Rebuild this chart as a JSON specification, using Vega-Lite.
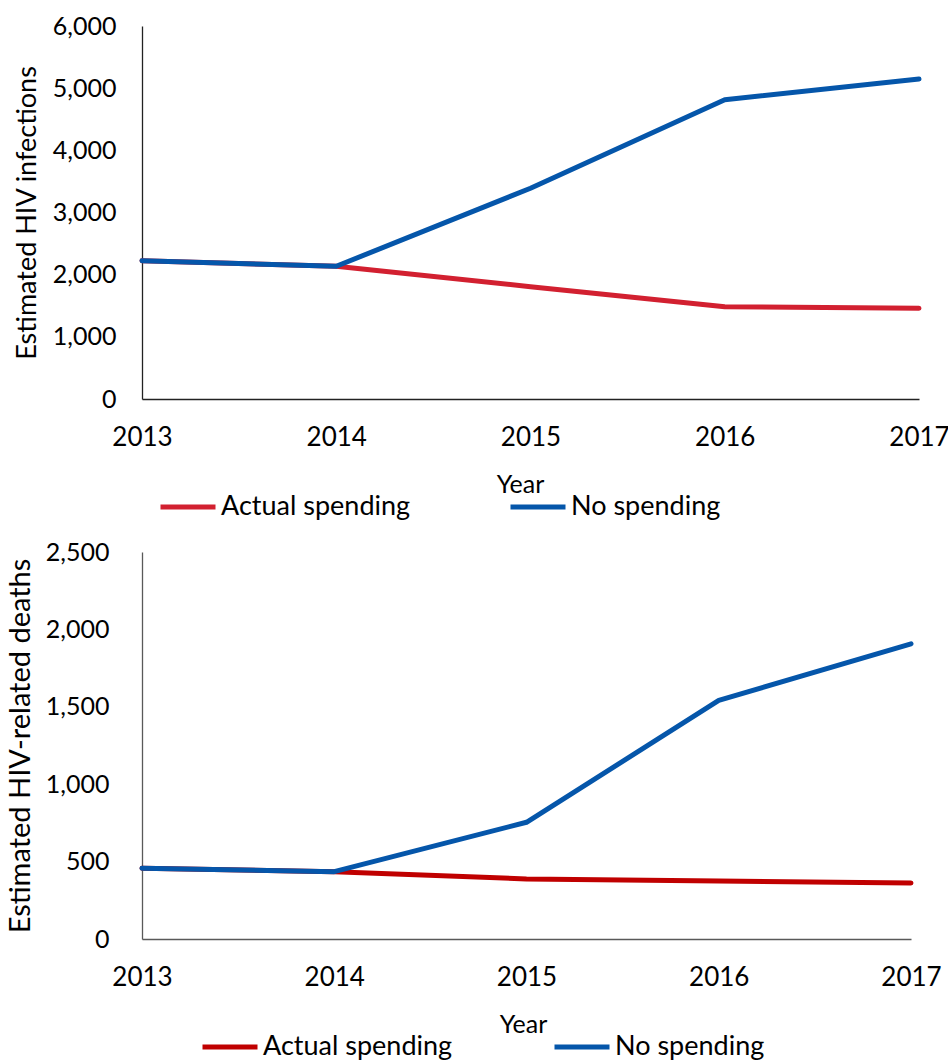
{
  "$schema": "https://vega.github.io/schema/vega-lite/v6.json",
  "background": "white",
  "padding": {"left": 6, "top": 14, "right": 8, "bottom": 0},
  "bounds": "flush",
  "spacing": 153,
  "datasets": {
    "infections": [
      {"year": 2013, "series": "Actual spending", "value": 2225},
      {"year": 2014, "series": "Actual spending", "value": 2135},
      {"year": 2015, "series": "Actual spending", "value": 1806},
      {"year": 2016, "series": "Actual spending", "value": 1485},
      {"year": 2017, "series": "Actual spending", "value": 1460},
      {"year": 2013, "series": "No spending", "value": 2225},
      {"year": 2014, "series": "No spending", "value": 2135},
      {"year": 2015, "series": "No spending", "value": 3390},
      {"year": 2016, "series": "No spending", "value": 4814},
      {"year": 2017, "series": "No spending", "value": 5147}
    ],
    "deaths": [
      {"year": 2013, "series": "Actual spending", "value": 457},
      {"year": 2014, "series": "Actual spending", "value": 435},
      {"year": 2015, "series": "Actual spending", "value": 388},
      {"year": 2016, "series": "Actual spending", "value": 375},
      {"year": 2017, "series": "Actual spending", "value": 362},
      {"year": 2013, "series": "No spending", "value": 457},
      {"year": 2014, "series": "No spending", "value": 435},
      {"year": 2015, "series": "No spending", "value": 754},
      {"year": 2016, "series": "No spending", "value": 1541},
      {"year": 2017, "series": "No spending", "value": 1907}
    ]
  },
  "vconcat": [
    {
      "width": 777,
      "height": 373,
      "data": {"name": "infections"},
      "mark": {"type": "line", "strokeWidth": 5, "strokeCap": "round", "strokeJoin": "round"},
      "encoding": {
        "x": {
          "field": "year", "type": "quantitative",
          "scale": {"domain": [2013, 2017], "nice": false, "zero": false},
          "axis": {"values": [2013, 2014, 2015, 2016, 2017], "format": "d", "title": "Year",
                   "labelPadding": 25, "titlePadding": 22, "titleX": 378, "domainColor": "#222222", "labelOverlap": false, "labelFlush": false}
        },
        "y": {
          "field": "value", "type": "quantitative",
          "scale": {"domain": [0, 6000], "nice": false},
          "axis": {"values": [0, 1000, 2000, 3000, 4000, 5000, 6000], "format": ",d", "title": "Estimated HIV infections",
                   "labelPadding": 26, "titlePadding": 11, "labelFontSize": 25, "titleFontSize": 27, "domainColor": "#222222"}
        },
        "color": {
          "field": "series", "type": "nominal",
          "scale": {"domain": ["Actual spending", "No spending"], "range": ["#D22030", "#0556AA"]},
          "legend": {"title": null, "orient": "none", "direction": "horizontal", "legendX": 16, "legendY": 451,
                     "symbolType": "stroke", "symbolSize": 3025, "symbolStrokeWidth": 5, "labelOffset": 3, "columnPadding": 89}
        }
      }
    },
    {
      "width": 769,
      "height": 387,
      "data": {"name": "deaths"},
      "mark": {"type": "line", "strokeWidth": 5, "strokeCap": "round", "strokeJoin": "round"},
      "encoding": {
        "x": {
          "field": "year", "type": "quantitative",
          "scale": {"domain": [2013, 2017], "nice": false, "zero": false},
          "axis": {"values": [2013, 2014, 2015, 2016, 2017], "format": "d", "title": "Year",
                   "labelPadding": 25, "titlePadding": 22, "titleX": 381, "domainColor": "#595959", "labelOverlap": false, "labelFlush": false}
        },
        "y": {
          "field": "value", "type": "quantitative",
          "scale": {"domain": [0, 2500], "nice": false},
          "axis": {"values": [0, 500, 1000, 1500, 2000, 2500], "format": ",d", "title": "Estimated HIV-related deaths",
                   "labelPadding": 33, "titlePadding": 10, "labelFontSize": 25, "titleFontSize": 29, "domainColor": "#595959"}
        },
        "color": {
          "field": "series", "type": "nominal",
          "scale": {"domain": ["Actual spending", "No spending"], "range": ["#C00000", "#0556AA"]},
          "legend": {"title": null, "orient": "none", "direction": "horizontal", "legendX": 58, "legendY": 465,
                     "symbolType": "stroke", "symbolSize": 3025, "symbolStrokeWidth": 5, "labelOffset": 3, "columnPadding": 91}
        }
      }
    }
  ],
  "resolve": {"scale": {"color": "independent"}},
  "config": {
    "font": "Lato",
    "view": {"stroke": null},
    "axis": {
      "grid": false, "ticks": false, "tickSize": 0,
      "labelFont": "Lato", "labelFontSize": 26, "labelColor": "#000000",
      "titleFont": "Lato", "titleFontSize": 25, "titleFontWeight": "normal", "titleColor": "#000000",
      "domainWidth": 1.3
    },
    "legend": {
      "labelFont": "Lato", "labelFontSize": 27, "labelColor": "#000000", "padding": 0, "labelLimit": 400
    }
  }
}
